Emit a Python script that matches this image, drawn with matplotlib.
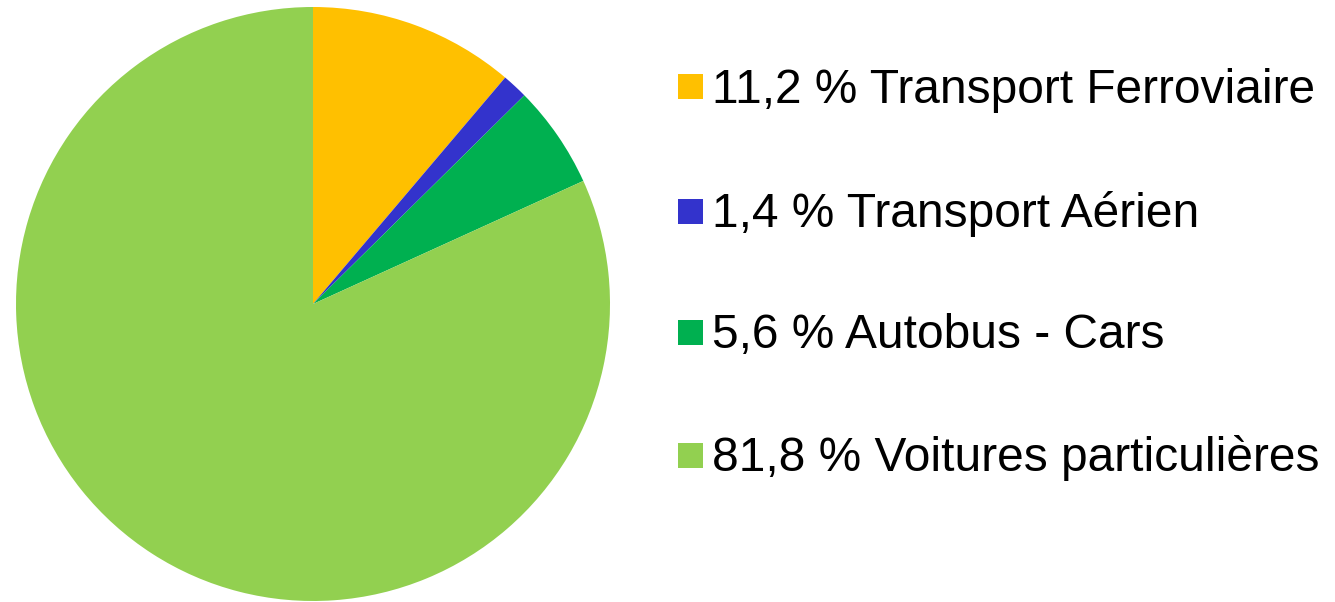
import matplotlib.pyplot as plt
from matplotlib.patches import Rectangle

labels = ["Transport Ferroviaire", "Transport Aérien", "Autobus - Cars", "Voitures particulières"]
values = [11.2, 1.4, 5.6, 81.8]
colors = ["#FFC000", "#3333CC", "#00B050", "#92D050"]

W, H = 1335, 602
fig = plt.figure(figsize=(W / 100, H / 100), dpi=100)

# pie: centre (313, 304) px, radius ~297 px
cx, cy, r = 313, 304, 297
ax = fig.add_axes([(cx - r) / W, (H - cy - r) / H, 2 * r / W, 2 * r / H])
ax.pie(values, colors=colors, startangle=90, counterclock=False,
       wedgeprops=dict(linewidth=0))
ax.set_xlim(-1, 1)
ax.set_ylim(-1, 1)
ax.set_aspect("equal")
ax.axis("off")

# legend drawn by hand: square + text per row (baselines in px from top)
baselines = [103, 227, 348, 471]
for lab, v, c, b in zip(labels, values, colors, baselines):
    sq_c = b - 16
    fig.add_artist(Rectangle((678 / W, (H - sq_c - 12.5) / H), 25 / W, 25 / H,
                             transform=fig.transFigure, color=c, lw=0))
    txt = f"{v:.1f}".replace(".", ",") + " % " + lab
    fig.text(712 / W, (H - b) / H, txt, fontsize=34.5, family="Liberation Sans",
             va="baseline", ha="left", color="black")

plt.savefig("out.png", dpi=100)
